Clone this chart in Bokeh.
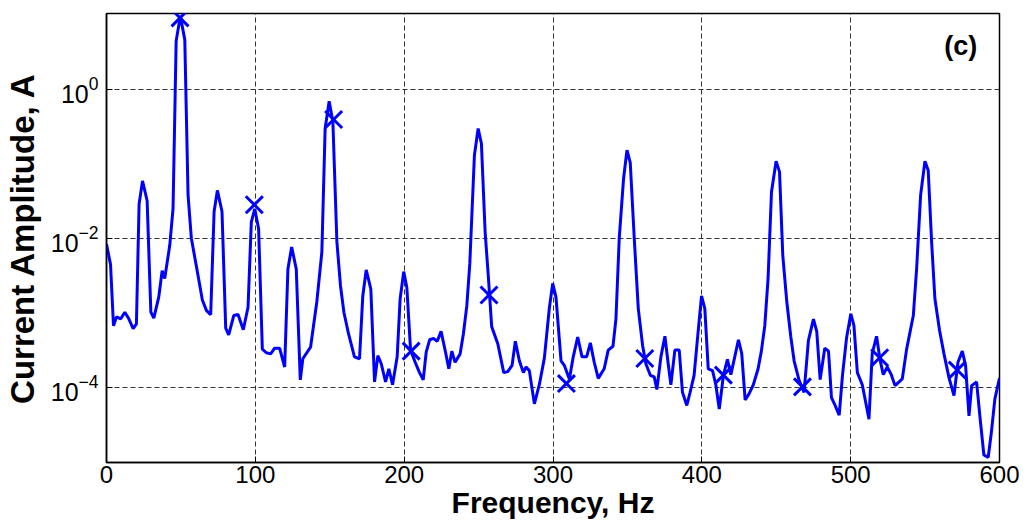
from bokeh.plotting import figure
from bokeh.models import FixedTicker, LogTickFormatter, Label, Range1d
from bokeh.embed import file_html
from bokeh.resources import INLINE

freq_hz = [
    0, 2.7, 4.7, 6.7, 9.6, 12.3, 15, 17.9, 20.1, 21.9,
    24.2, 27.3, 29.8, 31.8, 35.1, 37.4, 39.1, 42.5, 44.7, 46.8,
    49.6, 52.6, 54.8, 57, 61.5, 64.4, 67.1, 70, 72.3, 74.5,
    77.6, 80.1, 82.1, 85.5, 88.4, 91.9, 95.1, 97.3, 99.6, 102.2,
    104.7, 107.4, 110.3, 113, 116.3, 119.7, 121.9, 124.4, 127.5, 130.2,
    131.9, 137.1, 141.3, 144.7, 146.9, 149.6, 152.1, 154.8, 157.2, 159.5,
    162.6, 166.6, 170, 172.2, 174.5, 177.6, 180.1, 182.3, 184.6, 187.5,
    189.7, 192.2, 195.3, 197.3, 199.7, 201.8, 204.3, 207.4, 210.3, 212.8,
    214.8, 217.1, 219.7, 222.2, 224.8, 227.8, 230, 232, 234.2, 237.6,
    239.8, 242.1, 244.1, 247.2, 249.7, 251.9, 254.4, 256.6, 258.8, 262.9,
    266.9, 269.6, 272.5, 274.7, 277.4, 280.1, 281.9, 284.1, 287.5, 290.8,
    294.2, 297.5, 299.8, 302, 305.4, 307.6, 311, 313.6, 316.6, 319.5,
    322.6, 325.1, 327.7, 330.4, 334.4, 337.1, 340.3, 342.3, 344.5, 347.4,
    349.7, 351.9, 354.6, 357.3, 360.2, 362.4, 365.4, 368, 369.8, 372.5,
    375.2, 377.4, 379.2, 381.9, 384.8, 387, 389.9, 392.1, 394.8, 397.5,
    399.8, 402, 404.3, 407.2, 409.4, 411.7, 414.5, 417.2, 419.5, 422.3,
    424.6, 426.8, 429.1, 431.7, 434.6, 437.8, 440, 442.3, 444.5, 446.8,
    449.9, 452.2, 454.4, 457.1, 459.8, 462, 465.4, 468.7, 471.6, 475,
    477.2, 479.5, 482.6, 485.1, 487.1, 489.4, 492.3, 494.5, 497.2, 500.1,
    502.2, 504.5, 507.8, 510.1, 512.3, 514.5, 517.4, 519.7, 521.9, 524.6,
    527.3, 529.8, 534.7, 537.6, 542.1, 544.3, 547, 549.9, 552.1, 554.4,
    556.6, 559.7, 562.7, 566, 569.4, 572.1, 575, 577.2, 579.5, 581.3,
    584.6, 586.8, 589.5, 592.4, 594.5, 596.9, 600,
]

amp_a = [
    8.4e-3, 4.5e-3, 6.8e-4, 8.9e-4, 8.4e-4, 1.03e-3, 8.4e-4, 6.2e-4, 7.2e-4, 0.029,
    0.059, 0.032, 1.03e-3, 8.6e-4, 1.64e-3, 3.7e-3, 2.9e-3, 8.1e-3, 0.025, 4.4,
    9.5, 4.6, 0.038, 0.0101, 3.2e-3, 1.5e-3, 1.09e-3, 9.5e-4, 0.023, 0.044,
    0.023, 6.3e-4, 5.1e-4, 9.3e-4, 9.6e-4, 6.0e-4, 1.2e-3, 0.0166, 0.025, 0.0135,
    3.3e-4, 2.95e-4, 2.85e-4, 3.4e-4, 3.4e-4, 1.9e-4, 3.9e-3, 7.7e-3, 3.9e-3, 1.28e-4,
    2.45e-4, 3.5e-4, 1.41e-3, 6.6e-3, 0.297, 0.69, 0.365, 0.009, 2.35e-3, 1.03e-3,
    5.3e-4, 2.6e-4, 2.45e-4, 1.7e-3, 3.8e-3, 2.1e-3, 1.2e-4, 2.7e-4, 2.1e-4, 1.2e-4,
    1.8e-4, 1.1e-4, 2.6e-4, 1.56e-3, 3.6e-3, 2.2e-3, 3.2e-4, 2.2e-4, 1.6e-4, 1.28e-4,
    3.0e-4, 4.4e-4, 4.6e-4, 4.2e-4, 5.7e-4, 3.0e-4, 1.8e-4, 3.1e-4, 2.2e-4, 2.85e-4,
    5.3e-4, 1.26e-3, 4.6e-3, 0.13, 0.297, 0.187, 0.0122, 3.0e-3, 6.6e-4, 3.9e-4,
    1.6e-4, 1.65e-4, 2.0e-4, 4.2e-4, 2.3e-4, 1.6e-4, 1.9e-4, 1.7e-4, 6.1e-5, 1.1e-4,
    2.5e-4, 1.15e-3, 2.5e-3, 1.64e-3, 2.3e-4, 2.0e-4, 1.3e-4, 2.6e-4, 4.8e-4, 2.6e-4,
    2.6e-4, 4.0e-4, 2.2e-4, 1.34e-4, 1.8e-4, 3.2e-4, 3.6e-4, 8.4e-4, 0.010, 0.063,
    0.152, 0.104, 0.010, 1.15e-3, 3.7e-4, 2.1e-4, 1.47e-4, 1.4e-4, 9.5e-5, 2.6e-4,
    4.9e-4, 2.1e-4, 1.1e-4, 3.2e-4, 3.2e-4, 8.7e-5, 5.8e-5, 8.7e-5, 1.47e-4, 5.6e-4,
    1.7e-3, 1.15e-3, 1.8e-4, 1.7e-4, 1.1e-4, 5.2e-5, 1.47e-4, 2.4e-4, 1.5e-4, 2.7e-4,
    4.4e-4, 2.9e-4, 6.9e-5, 8.3e-5, 1.1e-4, 1.8e-4, 3.1e-4, 6.8e-4, 2.9e-3, 0.042,
    0.108, 0.078, 5.9e-3, 1.41e-3, 4.8e-4, 2.3e-4, 1.25e-4, 8.7e-5, 4.3e-4, 8.3e-4,
    5.7e-4, 1.29e-4, 3.4e-4, 3.1e-4, 7.4e-5, 5.9e-5, 4.3e-5, 1.47e-4, 4.6e-4, 9.8e-4,
    6.8e-4, 1.6e-4, 1.1e-4, 6.4e-5, 3.8e-5, 2.9e-4, 4.9e-4, 2.4e-4, 1.5e-4, 1.9e-4,
    1.5e-4, 1.07e-4, 1.32e-4, 3.3e-4, 9.3e-4, 3.9e-3, 0.038, 0.108, 0.082, 8.9e-3,
    1.56e-3, 5.9e-4, 2.85e-4, 1.38e-4, 7.9e-5, 2.2e-4, 3.1e-4, 2.0e-4, 4.2e-5, 1.07e-4,
    1.2e-4, 4.2e-5, 1.26e-5, 1.17e-5, 2.5e-5, 7.1e-5, 1.35e-4,
]

marker_hz = [49.4, 99.3, 152.6, 204.7, 257.0, 309.0, 361.7, 414.5, 467.6, 519.5, 571.6]
marker_amp = [9.0, 0.0283, 0.392, 3.1e-4, 1.75e-3, 1.14e-4, 2.47e-4, 1.48e-4, 1.03e-4, 2.53e-4, 1.73e-4]

x_ticks = [0, 100, 200, 300, 400, 500, 600]
y_ticks = [1e-4, 1e-2, 1e0]

x_title = "Frequency, Hz"
y_title = "Current Amplitude, A"
panel_label = "(c)"

p = figure(width=1020, height=528, x_axis_type="linear", y_axis_type="log",
           x_range=Range1d(0, 600), y_range=Range1d(1e-5, 1.03e1),
           output_backend="svg", toolbar_location=None,
           min_border_left=106, min_border_right=21, min_border_top=13, min_border_bottom=66)

p.line(freq_hz, amp_a, line_color="#0000ff", line_width=3)
p.scatter(marker_hz, marker_amp, marker="x", size=24, line_color="#0000ff", line_width=3)

p.outline_line_color = "black"
p.outline_line_width = 1.5
p.background_fill_color = "white"
p.border_fill_color = "white"

for g in (p.xgrid, p.ygrid):
    g.grid_line_color = "#333333"
    g.grid_line_dash = "5 3"
    g.grid_line_width = 1

p.xaxis.ticker = FixedTicker(ticks=x_ticks)
p.yaxis.ticker = FixedTicker(ticks=y_ticks)
p.yaxis.formatter = LogTickFormatter()
p.xgrid.ticker = FixedTicker(ticks=x_ticks)
p.ygrid.ticker = FixedTicker(ticks=y_ticks)

for ax in (p.xaxis, p.yaxis):
    ax.axis_line_color = "black"
    ax.axis_line_width = 1.5
    ax.major_tick_in = 6
    ax.major_tick_out = 0
    ax.minor_tick_line_color = None
    ax.major_label_text_color = "black"
    ax.axis_label_text_font = "Liberation Sans"
    ax.axis_label_text_font_style = "bold"
    ax.axis_label_text_color = "black"

p.xaxis.major_label_text_font = "Liberation Sans"
p.xaxis.major_label_text_font_size = "24px"
p.xaxis.major_label_standoff = 3
p.xaxis.axis_label = x_title
p.xaxis.axis_label_text_font_size = "30px"
p.xaxis.axis_label_standoff = 0

p.yaxis.major_label_text_font = "Liberation Sans"
p.yaxis.major_label_text_font_size = "25px"
p.yaxis.major_label_standoff = 8
p.yaxis.axis_label = y_title
p.yaxis.axis_label_text_font_size = "33px"
p.yaxis.axis_label_standoff = 7

p.add_layout(Label(x=585, y=3.8, text=panel_label, text_align="right", text_baseline="middle",
                   text_font="Liberation Sans", text_font_style="bold",
                   text_font_size="27px", text_color="black"))

open("out.html", "w").write(file_html(p, INLINE))
